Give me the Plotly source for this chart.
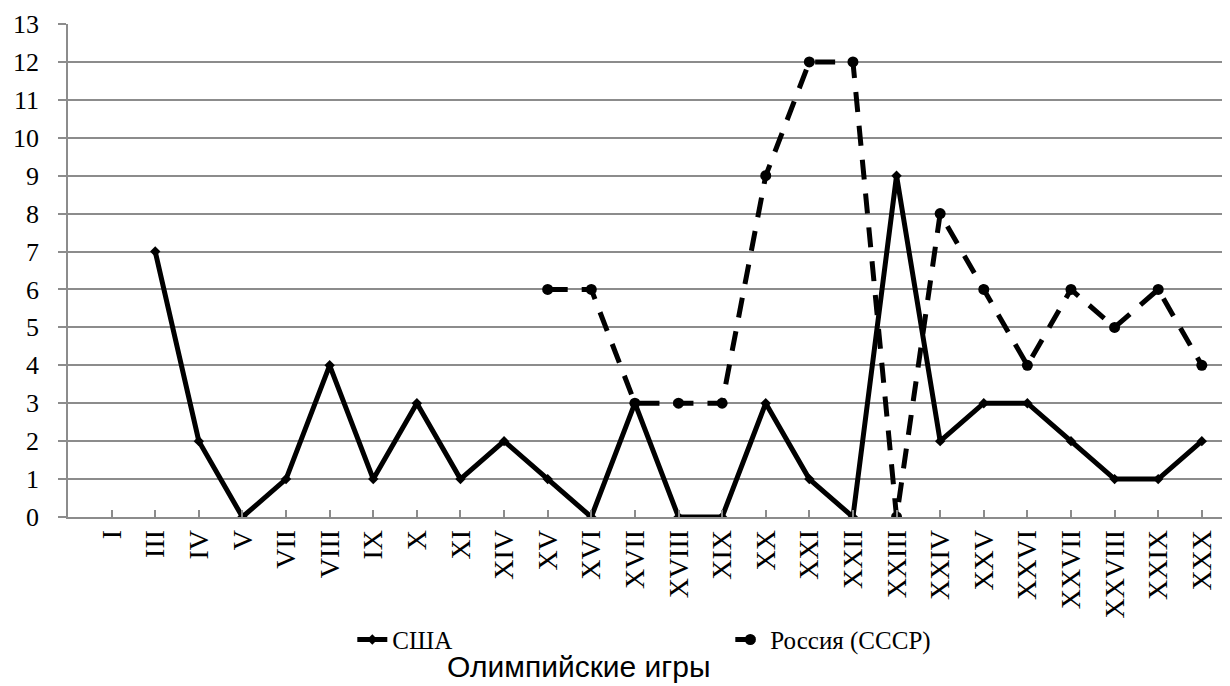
import plotly.graph_objects as go

games = ["I", "III", "IV", "V", "VII", "VIII", "IX", "X", "XI", "XIV", "XV", "XVI",
         "XVII", "XVIII", "XIX", "XX", "XXI", "XXII", "XXIII", "XXIV", "XXV",
         "XXVI", "XXVII", "XXVIII", "XXIX", "XXX"]
usa = [None, 7, 2, 0, 1, 4, 1, 3, 1, 2, 1, 0, 3, 0, 0, 3, 1, 0, 9, 2, 3, 3, 2, 1, 1, 2]
russia = [None, None, None, None, None, None, None, None, None, None, 6, 6, 3, 3, 3,
          9, 12, 12, 0, 8, 6, 4, 6, 5, 6, 4]

idx = list(range(len(games)))
serif = "Liberation Serif, Times New Roman, serif"
grid = "#8c8c8c"

fig = go.Figure()

fig.add_trace(go.Scatter(
    x=idx, y=usa, mode="lines+markers", name="США",
    line=dict(color="black", width=5),
    marker=dict(symbol="diamond", size=8, color="black"),
    connectgaps=False
))

fig.add_trace(go.Scatter(
    x=idx, y=russia, mode="lines+markers", name="Россия (СССР)",
    line=dict(color="black", width=5, dash="20px,14px"),
    marker=dict(symbol="circle", size=11, color="black"),
    connectgaps=False
))

# page adds a small top offset, so the figure is a bit shorter than the window
fig.update_layout(
    width=1230, height=678,
    margin=dict(l=60, r=0, t=16, b=169),
    plot_bgcolor="white", paper_bgcolor="white",
    font=dict(family=serif, size=24, color="black"),
    showlegend=True,
    legend=dict(orientation="h", x=0.243, xanchor="left", y=-0.249, yanchor="middle",
                entrywidth=333, entrywidthmode="pixels",
                font=dict(family=serif, size=25)),
    annotations=[dict(
        text="Олимпийские игры", xref="paper", yref="paper",
        x=0.437, y=-0.304, xanchor="center", yanchor="middle", showarrow=False,
        font=dict(family="Liberation Sans, Arial, sans-serif", size=30, color="black")
    )]
)

fig.update_xaxes(
    range=[-1, 25.83], tickmode="array", tickvals=idx, ticktext=games,
    tickangle=-90, ticks="inside", ticklen=7, tickcolor=grid, tickwidth=1.5,
    showline=True, linecolor=grid, linewidth=1.5, showgrid=False, zeroline=False,
    tickfont=dict(family=serif, size=28), automargin=False
)
fig.update_yaxes(
    range=[0, 13], dtick=1, ticks="outside", ticklen=8, tickcolor=grid, tickwidth=1.5,
    showline=True, linecolor=grid, linewidth=1.5, ticklabelstandoff=14,
    showgrid=True, gridcolor=grid, gridwidth=1.5, zeroline=False,
    tickfont=dict(family=serif, size=26), automargin=False
)

fig.write_html("out.html")
